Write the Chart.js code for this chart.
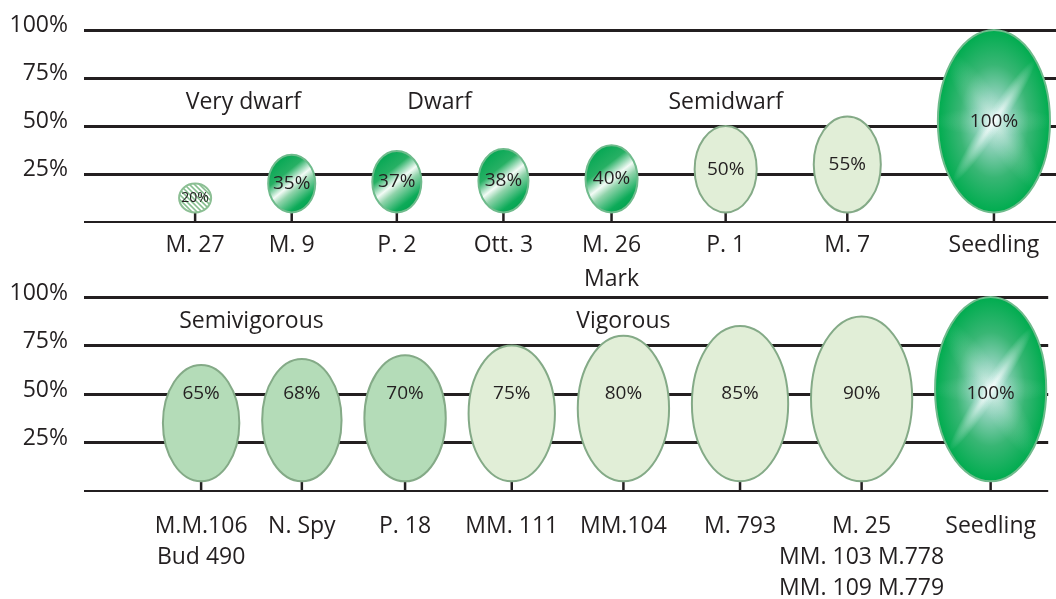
<!DOCTYPE html>
<html>
<head>
<meta charset="utf-8">
<title>Apple rootstock vigour</title>
<script src="https://cdn.jsdelivr.net/npm/chart.js@4.4.1/dist/chart.umd.min.js"></script>
<style>
  html, body { margin: 0; padding: 0; background: #fff; }
  #wrap { position: relative; width: 1056px; height: 599px; overflow: hidden; }
  #topChart { position: absolute; left: 0; top: 0; }
  #bottomChart { position: absolute; left: 0; top: 280px; }
</style>
</head>
<body>
<div id="wrap">
  <canvas id="topChart" width="1056" height="290"></canvas>
  <canvas id="bottomChart" width="1056" height="319"></canvas>
</div>
<script>
// tree size on each rootstock, as % of a seedling tree
const topRootstocks = ['M. 27', 'M. 9', 'P. 2', 'Ott. 3', ['M. 26', 'Mark'], 'P. 1', 'M. 7', 'Seedling'];
const topVigour = [20, 35, 37, 38, 40, 50, 55, 100];
const topGroups = ['Very dwarf', 'Dwarf', 'Semidwarf'];

const bottomRootstocks = [['M.M.106', 'Bud 490'], 'N. Spy', 'P. 18', 'MM. 111', 'MM.104', 'M. 793',
  ['M. 25', 'MM. 103 M.778', 'MM. 109 M.779'], 'Seedling'];
const bottomVigour = [65, 68, 70, 75, 80, 85, 90, 100];
const bottomGroups = ['Semivigorous', 'Vigorous'];

const percentTicks = [25, 50, 75, 100];

// look
const INK = '#231f20';
const FAMILY = '"Open Sans", "Noto Sans", sans-serif';
const STEM_TOP = 5; // crowns sit on a short trunk above the baseline

const topFills = ['hatch', 'shine', 'shine', 'shine', 'shine', 'pale', 'pale', 'seedling'];
const bottomFills = ['mid', 'mid', 'mid', 'pale', 'pale', 'pale', 'pale', 'seedling'];

// crown width grows with size; x positions are packed from it
function crownWidth(v) { return 12 + v; }

function packX(values, gap) {
  const xs = [0];
  for (let i = 1; i < values.length; i++) {
    xs.push(xs[i - 1] + crownWidth(values[i - 1]) / 2 + gap + crownWidth(values[i]) / 2);
  }
  return xs;
}

function font(size) {
  return size + 'px ' + FAMILY;
}

function paintHatch(ctx, cx, cy, rx, ry) {
  ctx.fillStyle = '#ffffff';
  ctx.fill();
  ctx.save();
  ctx.clip();
  ctx.strokeStyle = '#86bf8f';
  ctx.lineWidth = 1.6;
  const r = Math.max(rx, ry) * 2;
  for (let d = -r; d <= r; d += 5) {
    ctx.beginPath();
    ctx.moveTo(cx + d - r, cy - r);
    ctx.lineTo(cx + d + r, cy + r);
    ctx.stroke();
  }
  ctx.restore();
}

function paintShine(ctx, cx, cy, rx, ry) {
  const g = ctx.createLinearGradient(cx - rx * 0.8, cy - ry * 0.8, cx + rx * 0.8, cy + ry * 0.8);
  g.addColorStop(0, '#00a651');
  g.addColorStop(0.3, '#27b064');
  g.addColorStop(0.5, '#f3fbf6');
  g.addColorStop(0.62, '#8fd3aa');
  g.addColorStop(0.85, '#0dab59');
  g.addColorStop(1, '#00a14e');
  ctx.fillStyle = g;
  ctx.fill();
}

function glow(ctx, cx, cy, len, thick, angle, alpha) {
  ctx.save();
  ctx.translate(cx, cy);
  ctx.rotate(angle);
  ctx.scale(1, thick / len);
  const g = ctx.createRadialGradient(0, 0, 0, 0, 0, len);
  g.addColorStop(0, 'rgba(255,255,255,' + alpha + ')');
  g.addColorStop(0.5, 'rgba(225,246,244,' + alpha * 0.45 + ')');
  g.addColorStop(1, 'rgba(225,246,244,0)');
  ctx.fillStyle = g;
  ctx.fillRect(-len, -len, len * 2, len * 2);
  ctx.restore();
}

function paintSeedling(ctx, cx, cy, rx, ry) {
  ctx.save();
  ctx.clip();
  ctx.translate(cx, cy);
  ctx.scale(rx / ry, 1);
  const g = ctx.createRadialGradient(0, 0, 0, 0, 0, ry);
  g.addColorStop(0, '#cfece6');
  g.addColorStop(0.3, '#88cfb5');
  g.addColorStop(0.62, '#38b674');
  g.addColorStop(1, '#00ac4f');
  ctx.fillStyle = g;
  ctx.fillRect(-ry, -ry, ry * 2, ry * 2);
  ctx.restore();
  ctx.save();
  ctx.clip();
  glow(ctx, cx, cy, ry * 0.8, 9, -Math.PI / 3.2, 0.9);
  glow(ctx, cx, cy, ry * 0.9, 18, Math.PI / 3.2, 0.3);
  glow(ctx, cx, cy, rx * 1.1, 14, 0, 0.2);
  ctx.restore();
}

function treesPlugin(cfg) {
  return {
    id: 'trees',
    afterDatasetsDraw(chart) {
      const { ctx } = chart;
      const x = chart.scales.x;
      const y = chart.scales.y;
      const pts = chart.getDatasetMeta(0).data;
      const base = y.getPixelForValue(0);
      const foot = y.getPixelForValue(STEM_TOP);

      cfg.values.forEach((v, i) => {
        const cx = pts[i].x;
        const top = pts[i].y;
        const cy = (top + foot) / 2;
        const ry = (foot - top) / 2;
        const rx = x.getPixelForValue(cfg.xs[i] + crownWidth(v) / 2) - cx;
        const kind = cfg.fills[i];

        ctx.save();
        // trunk
        ctx.strokeStyle = INK;
        ctx.lineWidth = 2.5;
        ctx.beginPath();
        ctx.moveTo(cx, base);
        ctx.lineTo(cx, foot);
        ctx.stroke();

        // crown
        ctx.beginPath();
        ctx.ellipse(cx, cy, rx, ry, 0, 0, Math.PI * 2);
        if (kind === 'hatch') paintHatch(ctx, cx, cy, rx, ry);
        else if (kind === 'shine') paintShine(ctx, cx, cy, rx, ry);
        else if (kind === 'seedling') paintSeedling(ctx, cx, cy, rx, ry);
        else {
          ctx.fillStyle = kind === 'mid' ? '#b4dcb8' : '#e1eed7';
          ctx.fill();
        }
        ctx.beginPath();
        ctx.ellipse(cx, cy, rx, ry, 0, 0, Math.PI * 2);
        ctx.lineWidth = 2;
        ctx.strokeStyle = (kind === 'shine' || kind === 'seedling') ? '#6fbb8c' : (kind === 'hatch' ? '#8cbf94' : '#84aa87');
        ctx.stroke();

        // value label
        const size = Math.min(19, Math.floor(rx * 2 * 0.9 / 1.96));
        const ly = cfg.labelAt == null ? cy : y.getPixelForValue(cfg.labelAt);
        ctx.fillStyle = INK;
        ctx.font = font(size);
        ctx.textAlign = 'center';
        ctx.textBaseline = 'middle';
        ctx.fillText(v + '%', cx, ly);
        ctx.restore();
      });

      // group titles
      ctx.save();
      ctx.fillStyle = INK;
      ctx.font = font(23);
      ctx.textAlign = 'center';
      ctx.textBaseline = 'middle';
      cfg.groups.forEach((name, i) => {
        const [pos, val] = cfg.groupSpots[i];
        const lo = Math.floor(pos);
        const hi = Math.min(lo + 1, cfg.xs.length - 1);
        const xv = cfg.xs[lo] + (cfg.xs[hi] - cfg.xs[lo]) * (pos - lo);
        ctx.fillText(name, x.getPixelForValue(xv), y.getPixelForValue(val));
      });
      ctx.restore();
    }
  };
}

function makePanel(canvasId, cfg) {
  cfg.xs = packX(cfg.values, cfg.gap);
  const xs = cfg.xs;
  return new Chart(document.getElementById(canvasId), {
    type: 'scatter',
    data: {
      datasets: [{
        data: cfg.values.map((v, i) => ({ x: xs[i], y: v })),
        pointRadius: 0,
        pointHoverRadius: 0
      }]
    },
    options: {
      responsive: false,
      animation: false,
      events: [],
      layout: { padding: { top: cfg.padTop, left: 0, right: 0, bottom: 0 } },
      plugins: { legend: { display: false }, tooltip: { enabled: false } },
      scales: {
        x: {
          type: 'linear',
          bounds: 'data',
          min: xs[0] - cfg.padLeft,
          max: xs[xs.length - 1] + cfg.padRight,
          afterBuildTicks: axis => { axis.ticks = xs.map(v => ({ value: v })); },
          afterFit: axis => { axis.height = cfg.axisHeight; },
          ticks: {
            autoSkip: false,
            maxRotation: 0,
            minRotation: 0,
            padding: cfg.labelPad,
            color: INK,
            font: { family: FAMILY, size: 23, lineHeight: cfg.lineHeight },
            callback: (v, i) => cfg.labels[i]
          },
          grid: { display: false, drawTicks: false },
          border: { display: false }
        },
        y: {
          type: 'linear',
          min: 0,
          max: 100,
          afterBuildTicks: axis => { axis.ticks = [0, ...percentTicks].map(v => ({ value: v })); },
          afterFit: axis => {
            axis.width = 84;
            axis.paddingTop = 0;
            axis.paddingBottom = 0;
          },
          ticks: {
            padding: 16,
            labelOffset: cfg.tickShift,
            color: INK,
            font: { family: FAMILY, size: 23 },
            callback: v => (v === 0 ? '' : v + '%')
          },
          grid: {
            color: INK,
            lineWidth: c => (c.tick && c.tick.value === 0 ? 2 : 3),
            drawTicks: false
          },
          border: { display: false }
        }
      }
    },
    plugins: [treesPlugin(cfg)]
  });
}

makePanel('topChart', {
  values: topVigour,
  labels: topRootstocks,
  groups: topGroups,
  groupSpots: [[0.5, 62.5], [2.4, 62.5], [5, 62.5]],
  fills: topFills,
  gap: 57,
  padLeft: 111,
  padRight: 62,
  padTop: 30,
  axisHeight: 68,
  labelPad: 7,
  lineHeight: 1.45,
  tickShift: -5,
  labelAt: null
});

makePanel('bottomChart', {
  values: bottomVigour,
  labels: bottomRootstocks,
  groups: bottomGroups,
  groupSpots: [[0.5, 87.6], [4, 87.6]],
  fills: bottomFills,
  gap: 23,
  padLeft: 118,
  padRight: 58,
  padTop: 17,
  axisHeight: 108,
  labelPad: 20,
  lineHeight: 1.35,
  tickShift: -4,
  labelAt: 50
});
</script>
</body>
</html>
